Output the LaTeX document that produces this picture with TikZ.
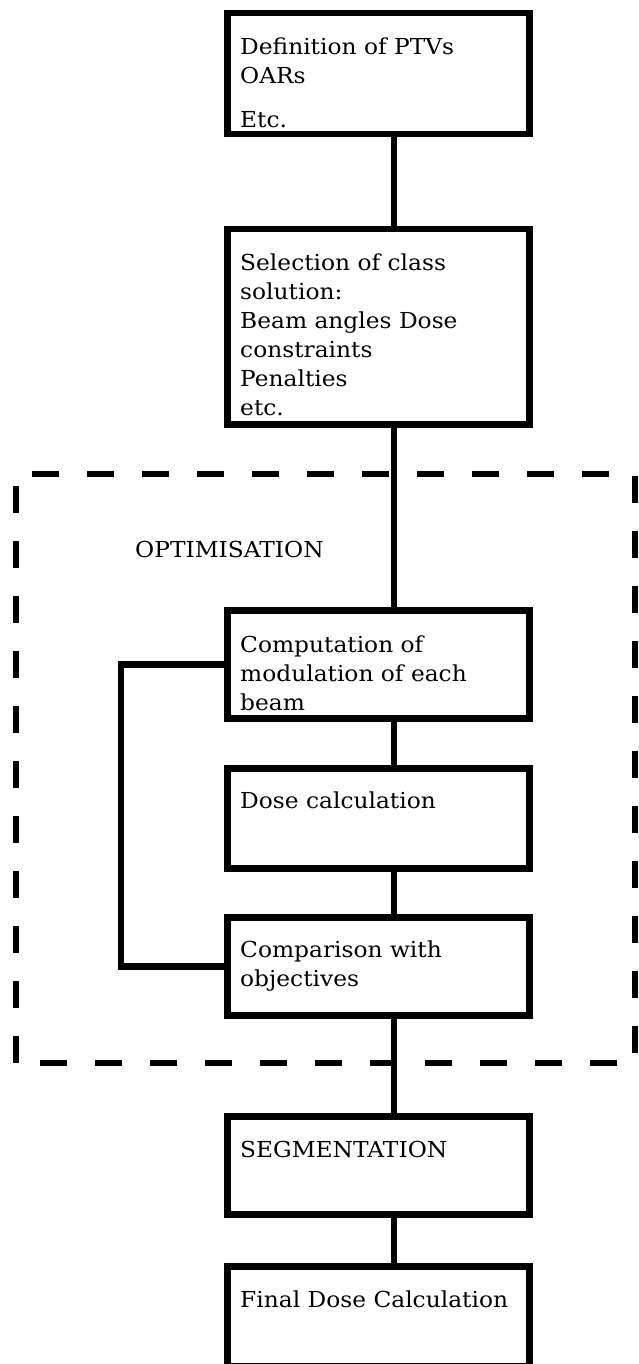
\documentclass[tikz,border=0pt]{standalone}
\usepackage{fontspec}
\setmainfont{DejaVu Serif}[FakeStretch=1.06]
\begin{document}
\begin{tikzpicture}[x=1pt, y=-1pt,
  stepbox/.style={draw=black, line width=6.5pt, rectangle, inner sep=0pt,
    minimum width=302pt, anchor=north west},
  boxtext/.style={anchor=base west, inner sep=0pt,
    font=\fontsize{22}{29}\selectfont},
  link/.style={draw=black, line width=6.5pt},
  frame/.style={draw=black, line width=6.5pt, dash pattern=on 27pt off 28pt}]
\useasboundingbox (0,0) rectangle (639,1364);

% optimisation region
\draw[frame] (16,1063) rectangle (635,474);
\node[boxtext] (opt) at (135,557) {OPTIMISATION};

% x positions of the vertical spine and of the feedback loop
\coordinate (spine) at (394,0);
\coordinate (loopx) at (121,0);

% process boxes
\node[stepbox, minimum height=121pt] (b1) at (224,10) {};
\node[stepbox, minimum height=195pt] (b2) at (224,226) {};
\node[stepbox, minimum height=108pt] (b3) at (224,607) {};
\node[stepbox, minimum height=100pt] (b4) at (224,765) {};
\node[stepbox, minimum height=98pt] (b5) at (224,914) {};
\node[stepbox, minimum height=98pt] (b6) at (224,1113) {};
\node[stepbox, minimum height=100pt] (b7) at (224,1263) {};

% box texts (baseline of the first line at the given point)
\node[boxtext] (t1) at (240,55) {\begin{tabular}[t]{@{}l@{}}Definition of PTVs\\OARs\\[15pt]Etc.\end{tabular}};
\node[boxtext] (t2) at (240,270) {\begin{tabular}[t]{@{}l@{}}Selection of class\\solution:\\Beam angles Dose\\constraints\\Penalties\\etc.\end{tabular}};
\node[boxtext] (t3) at (240,652) {\begin{tabular}[t]{@{}l@{}}Computation of\\modulation of each\\beam\end{tabular}};
\node[boxtext] (t4) at (240,808) {Dose calculation};
\node[boxtext] (t5) at (240,957) {\begin{tabular}[t]{@{}l@{}}Comparison with\\objectives\end{tabular}};
\node[boxtext] (t6) at (240,1157) {SEGMENTATION};
\node[boxtext] (t7) at (240,1307) {Final Dose Calculation};

% connectors along the spine
\draw[link] (b1.south -| spine) -- (b2.north -| spine);
\draw[link] (b2.south -| spine) -- (b3.north -| spine);
\draw[link] (b3.south -| spine) -- (b4.north -| spine);
\draw[link] (b4.south -| spine) -- (b5.north -| spine);
\draw[link] (b5.south -| spine) -- (b6.north -| spine);
\draw[link] (b6.south -| spine) -- (b7.north -| spine);

% feedback loop
\draw[link] (b3.west) -| (loopx |- b4.center) |- (b5.west);
\end{tikzpicture}
\end{document}
